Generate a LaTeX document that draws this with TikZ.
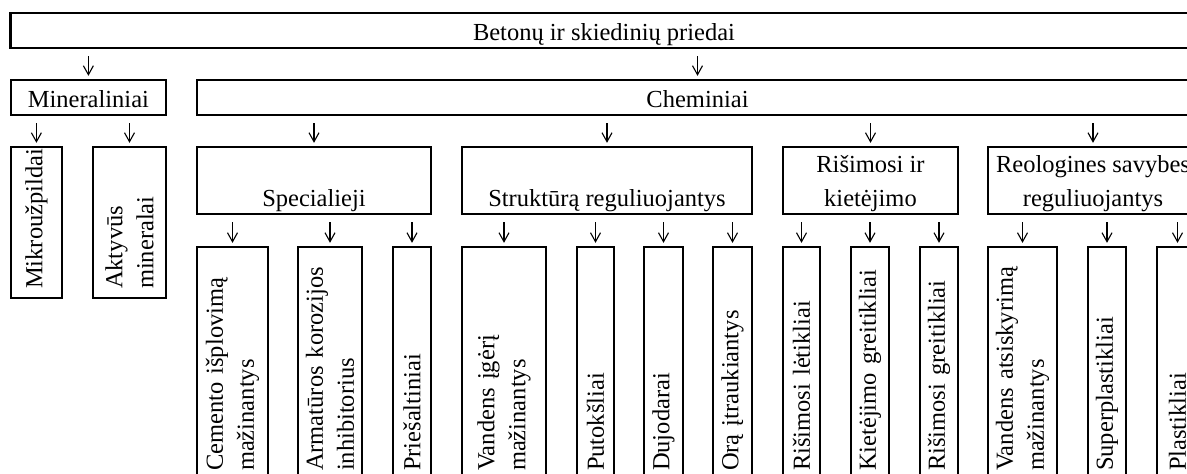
\documentclass[tikz,border=0pt]{standalone}
\usepackage{fontspec}
\setmainfont{Liberation Serif}
\usetikzlibrary{arrows.meta}

\tikzset{
	box/.style={draw, line width=1.15pt, inner sep=0pt, font=\fontsize{12.25}{15.5}\selectfont},
	row/.style={box, text height=13.8pt, text depth=3.7pt},
	txt/.style={inner sep=0pt, align=center, font=\fontsize{12.25}{17}\selectfont},
	vbox/.style={box, rotate=90, inner xsep=4.5pt, align=left},
	lower/.style={vbox, minimum width=116.5pt, text width=107.5pt},
	arr/.style={-{Straight Barb[length=4.5pt,width=5pt]}, line width=0.55pt, shorten <=3.6pt, shorten >=1.5pt}
}

\begin{document}
\begin{tikzpicture}[x=0.5pt, y=-0.5pt]
	\useasboundingbox (0,0) rectangle (1187,474);
	
	% Priedai
	\node[row, minimum width=593.5pt] (priedai) at (604,30.2) {Betonų ir skiedinių priedai};
	\node[row, minimum width=77.6pt] (miner) at (88.4,97.5) {Mineraliniai};
	\node[row, minimum width=500.5pt] (chem) at (697.5,97.5) {Cheminiai};
	
	\node[vbox, minimum width=75.5pt, text width=66.5pt, minimum height=25.6pt] (mikro) at (36.4,222.5) {Mikroužpildai};
	\node[vbox, minimum width=75.5pt, text width=66.5pt, minimum height=36.5pt] (aktyv) at (129.5,222.5) {Aktyvūs\\mineralai};
	
	\node[box, minimum width=117pt, text height=30pt, text depth=3.5pt] (spec) at (314,180.5) {Specialieji};
	\node[box, minimum width=145pt, text height=30pt, text depth=3.5pt] (strukt) at (607,180.5) {Struktūrą reguliuojantys};
	\node[box, minimum width=87.5pt, minimum height=33.5pt] (risim) at (870.5,180.5) {};
	\node[txt] (risimtxt) at (870.5,184) {Rišimosi ir\\kietėjimo};
	\node[box, minimum width=105pt, minimum height=33.5pt] (reol) at (1093,180.5) {};
	\node[txt] (reoltxt) at (1093,184) {Reologines savybes\\reguliuojantys};
	
	% Apatinis lygis
	\node[lower, minimum height=35.5pt] (cem) at (232.5,363.5) {Cemento išplovimą\\mažinantys};
	\node[lower, minimum height=32pt] (armat) at (330,363.5) {Armatūros korozijos\\inhibitorius};
	\node[lower, minimum height=19pt] (pries) at (412,363.5) {Priešaltiniai};
	\node[lower, minimum height=42pt] (vand) at (504,363.5) {Vandens įgėrį\\mažinantys};
	\node[lower, minimum height=18.5pt] (put) at (595.5,363.5) {Putokšliai};
	\node[lower, minimum height=19.5pt] (duj) at (663.5,363.5) {Dujodarai};
	\node[lower, minimum height=19.5pt] (ora) at (732.5,363.5) {Orą įtraukiantys};
	\node[lower, minimum height=18.5pt] (risl) at (801.5,363.5) {Rišimosi lėtikliai};
	\node[lower, minimum height=19pt] (kiet) at (870,363.5) {Kietėjimo greitikliai};
	\node[lower, minimum height=19pt] (risg) at (939,363.5) {Rišimosi greitikliai};
	\node[lower, minimum height=34.5pt] (vanda) at (1022.5,363.5) {Vandens atsiskyrimą\\mažinantys};
	\node[lower, minimum height=19pt] (super) at (1107,363.5) {Superplastikliai};
	\node[lower, minimum height=20.5pt] (plast) at (1177.5,363.5) {Plastikliai};
	
	% Rodyklės
	\draw[arr] (priedai.south -| miner.north) -- (miner.north);
	\draw[arr] (priedai.south -| chem.north) -- (chem.north);
	\draw[arr] (miner.south -| mikro.east) -- (mikro.east);
	\draw[arr] (miner.south -| aktyv.east) -- (aktyv.east);
	\draw[arr] (chem.south -| spec.north) -- (spec.north);
	\draw[arr] (chem.south -| strukt.north) -- (strukt.north);
	\draw[arr] (chem.south -| risim.north) -- (risim.north);
	\draw[arr] (chem.south -| reol.north) -- (reol.north);
	\draw[arr] (spec.south -| cem.east) -- (cem.east);
	\draw[arr] (spec.south -| armat.east) -- (armat.east);
	\draw[arr] (spec.south -| pries.east) -- (pries.east);
	\draw[arr] (strukt.south -| vand.east) -- (vand.east);
	\draw[arr] (strukt.south -| put.east) -- (put.east);
	\draw[arr] (strukt.south -| duj.east) -- (duj.east);
	\draw[arr] (strukt.south -| ora.east) -- (ora.east);
	\draw[arr] (risim.south -| risl.east) -- (risl.east);
	\draw[arr] (risim.south -| kiet.east) -- (kiet.east);
	\draw[arr] (risim.south -| risg.east) -- (risg.east);
	\draw[arr] (reol.south -| vanda.east) -- (vanda.east);
	\draw[arr] (reol.south -| super.east) -- (super.east);
	\draw[arr] (reol.south -| plast.east) -- (plast.east);
\end{tikzpicture}
\end{document}
